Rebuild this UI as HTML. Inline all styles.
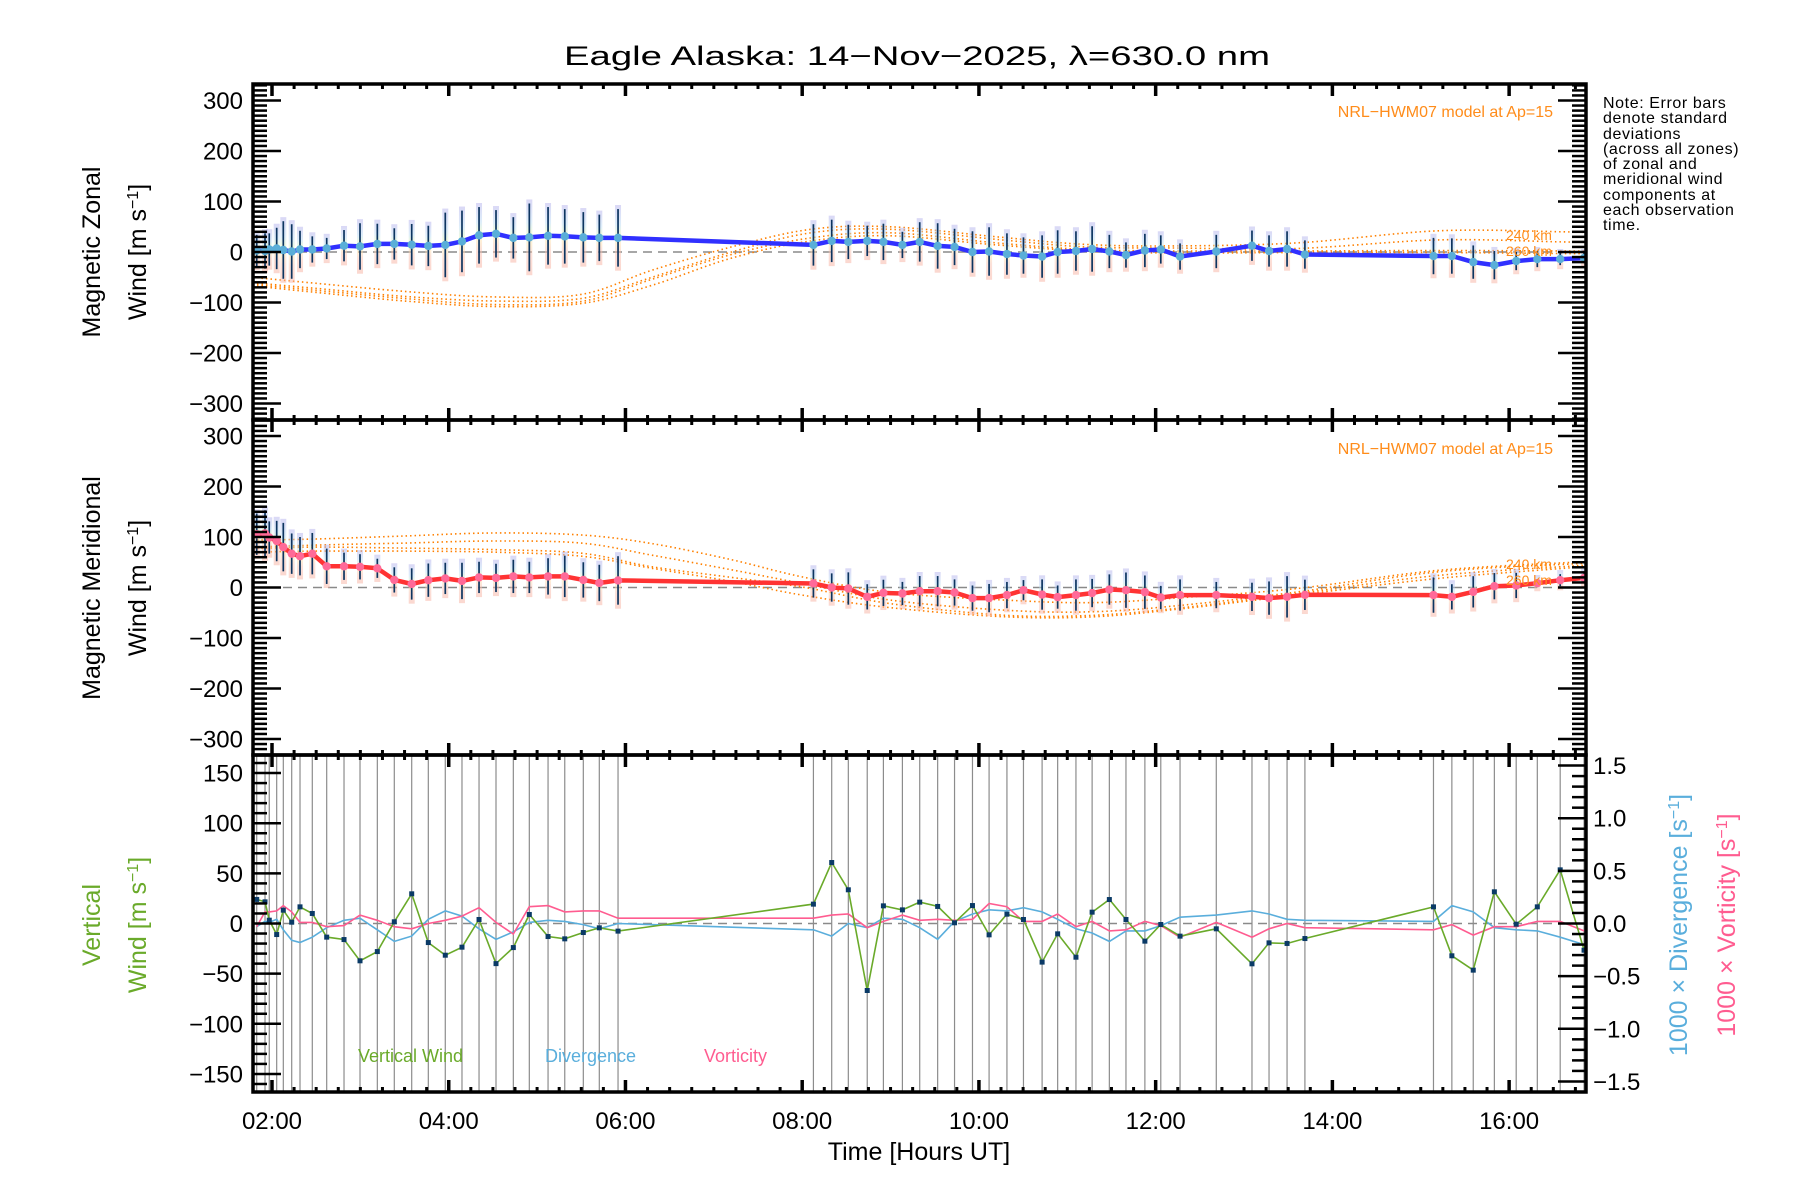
<!DOCTYPE html>
<html><head><meta charset="utf-8"><title>Eagle Alaska winds</title>
<style>
html,body{margin:0;padding:0;background:#fff;}
svg{display:block;font-family:"Liberation Sans",sans-serif;}
</style></head>
<body>
<svg id="chart" width="1800" height="1200" viewBox="0 0 1800 1200" xmlns="http://www.w3.org/2000/svg">
<defs>
<linearGradient id="pastel" x1="0" y1="0" x2="0" y2="1">
<stop offset="0" stop-color="#b4b0ec"/><stop offset="0.3" stop-color="#bcdcf4"/><stop offset="0.45" stop-color="#e2f4b8"/><stop offset="0.58" stop-color="#fde2ae"/><stop offset="0.72" stop-color="#f9c2b2"/><stop offset="1" stop-color="#f7b0a0"/>
</linearGradient>
<clipPath id="c1"><rect x="253" y="84" width="1333" height="336"/></clipPath>
<clipPath id="c2"><rect x="253" y="420" width="1333" height="335"/></clipPath>
<clipPath id="c3"><rect x="253" y="755" width="1333" height="337"/></clipPath>
</defs>
<text x="564" y="65" font-size="27" textLength="706" lengthAdjust="spacingAndGlyphs">Eagle Alaska: 14−Nov−2025, λ=630.0 nm</text>
<g id="g1" clip-path="url(#c1)"></g>
<g id="g2" clip-path="url(#c2)"></g>
<g id="g3" clip-path="url(#c3)"></g>
<g id="axes"></g>
<text transform="translate(100,252) rotate(-90)" text-anchor="middle" font-size="25">Magnetic Zonal</text>
<text transform="translate(146,252) rotate(-90)" text-anchor="middle" font-size="25">Wind [m s<tspan baseline-shift="super" font-size="16">−1</tspan>]</text>
<text transform="translate(100,588) rotate(-90)" text-anchor="middle" font-size="25">Magnetic Meridional</text>
<text transform="translate(146,588) rotate(-90)" text-anchor="middle" font-size="25">Wind [m s<tspan baseline-shift="super" font-size="16">−1</tspan>]</text>
<text transform="translate(100,925) rotate(-90)" text-anchor="middle" font-size="25" fill="#6aaa2a">Vertical</text>
<text transform="translate(146,925) rotate(-90)" text-anchor="middle" font-size="25" fill="#6aaa2a">Wind [m s<tspan baseline-shift="super" font-size="16">−1</tspan>]</text>
<text transform="translate(1687,925) rotate(-90)" text-anchor="middle" font-size="25" fill="#5aaedc">1000 × Divergence [s<tspan baseline-shift="super" font-size="16">−1</tspan>]</text>
<text transform="translate(1735,925) rotate(-90)" text-anchor="middle" font-size="25" fill="#ff5c90">1000 × Vorticity [s<tspan baseline-shift="super" font-size="16">−1</tspan>]</text>
<text x="919" y="1160" text-anchor="middle" font-size="25">Time [Hours UT]</text>
<text x="1553" y="117" text-anchor="end" font-size="16" fill="#ff8c1a">NRL−HWM07 model at Ap=15</text>
<text x="1553" y="454" text-anchor="end" font-size="16" fill="#ff8c1a">NRL−HWM07 model at Ap=15</text>
<text x="1506" y="240" font-size="14" fill="#ff8c1a">240 km</text>
<text x="1506" y="256" font-size="14" fill="#ff8c1a">260 km</text>
<text x="1506" y="569" font-size="14" fill="#ff8c1a">240 km</text>
<text x="1506" y="585" font-size="14" fill="#ff8c1a">260 km</text>
<text x="358" y="1062" font-size="18" fill="#6aaa2a">Vertical Wind</text>
<text x="545" y="1062" font-size="18" fill="#5aaedc">Divergence</text>
<text x="704" y="1062" font-size="18" fill="#ff5c90">Vorticity</text>
<g font-size="16" letter-spacing="0.6">
<text x="1603" y="108">Note: Error bars</text>
<text x="1603" y="123">denote standard</text>
<text x="1603" y="139">deviations</text>
<text x="1603" y="154">(across all zones)</text>
<text x="1603" y="169">of zonal and</text>
<text x="1603" y="184">meridional wind</text>
<text x="1603" y="200">components at</text>
<text x="1603" y="215">each observation</text>
<text x="1603" y="230">time.</text>
</g>
</svg>
<script>
const times=[1.827,1.921,1.969,2.053,2.128,2.223,2.317,2.456,2.619,2.815,2.996,3.192,3.384,3.581,3.769,3.961,4.150,4.343,4.535,4.731,4.912,5.124,5.313,5.523,5.704,5.916,
8.127,8.334,8.522,8.736,8.919,9.134,9.330,9.533,9.724,9.927,10.115,10.317,10.504,10.715,10.891,11.098,11.281,11.476,11.664,11.878,12.058,12.276,12.686,13.090,13.283,13.487,13.689,
15.144,15.352,15.594,15.833,16.080,16.319,16.578,16.848];
const zonal=[3,2,5,7,4,1,5,5,7,12.5,11,16,16,14.5,12,14,21,33,36,28,29,32,31,29,28,28,
14,22,20,22,20,14,20,12,10,0,1,-4,-7,-9,0,2,6,1,-6,3,5,-9,1,12.5,2,6,-5,
-8,-8,-20,-26,-18,-14,-14,-12];
const zonalSd=[31,35,32,41,57,54,37,26,21,31,46,40,31,41,40,64,61,56,47,41,67,57,54,50,46,57,
41,42,34,30,36,26,39,45,36,41,48,41,36,42,43,39,45,33,25,33,28,26,33,30,31,35,28,
36,35,33,28,18,16,12,10];
const merid=[105.6,107,99,92,80,67,62,67,42,42,41,38,15,7,14.5,18,13,20,19,22,20,22,22,15,9,14,
8,0,-2,-18.5,-10.6,-11.9,-7.3,-7.3,-9.9,-21,-21,-15,-5.3,-13.9,-19,-15,-11,-4,-5.3,-9.2,-19.8,-15,-15,-18.5,-21,-18.5,-14.5,
-15,-18.5,-8.6,2.6,4,8.6,14.5,19];
const meridSd=[41,46,32,40,48,40,38,41,35,27,25,19,25,31,33,31,36,31,28,33,31,36,41,35,36,48,
28,28,32,25,26,23,30,30,26,25,28,26,20,30,23,31,28,30,35,33,23,31,26,28,33,41,30,
35,25,31,26,25,8,12,10];
const vert=[24,21.6,3.3,-11,13.3,1.3,16.6,10,-13.6,-16,-37.2,-28,1.7,29.6,-19,-31.6,-23.6,4,-40,-24,9,-13,-15.3,-9,-4.3,-7.6,
19.3,60.8,33.6,-66.8,17.6,13.6,21.3,17,0.7,17.9,-11.3,9.3,4,-38.5,-10.3,-33.6,11.3,23.9,4,-17.6,-1,-12.6,-5.3,-40.2,-19.3,-19.9,-15,
16.6,-32.2,-46.5,31.6,-0.7,16.6,53.5,-26.6];
const diverg=[-0.03,0.02,0.01,0.04,-0.06,-0.16,-0.18,-0.13,-0.04,0.03,0.05,-0.06,-0.17,-0.12,0.04,0.12,0.07,-0.05,-0.15,-0.08,0.01,0.03,0.02,-0.01,-0.05,0.0,
-0.06,-0.12,0,-0.04,0.05,0.04,-0.04,-0.15,0.02,0.09,0.13,0.12,0.15,0.11,0.04,-0.05,-0.09,-0.17,-0.07,-0.07,-0.02,0.06,0.08,0.12,0.09,0.04,0.03,
0.02,0.17,0.11,-0.04,-0.06,-0.07,-0.13,-0.2];
const vortic=[-0.03,0.11,0.11,0.12,0.17,0.11,0.01,0.01,-0.03,-0.02,0.08,0.03,-0.03,-0.05,0,0.03,0.07,0.15,0.01,-0.1,0.16,0.17,0.11,0.12,0.12,0.05,
0.05,0.08,0.09,-0.04,0.02,0.08,0.03,0.04,0.03,0.04,0.19,0.16,0.02,0.02,0.09,-0.03,0.02,-0.07,-0.06,0.02,-0.02,-0.13,0.01,-0.13,-0.05,0,-0.04,
-0.06,-0.01,-0.11,-0.03,-0.03,0.02,0.02,-0.07];
const zModelT=[1.78,2.5,3.5,4.5,5.5,6.3,7.2,8.1,9,10.2,11.2,12.2,13.6,15.2,16.6,16.9];
const zModel1=[-50,-62,-78,-89,-84,-36,10,45,50,30,15,12,18,42,40,38];
const zModel2=[-61,-72,-88,-97,-92,-50,0,38,45,25,10,8,7,24,20,19];
const zModel3=[-64,-76,-92,-104,-98,-54,-5,28,38,18,5,2,2,3,2,2];
const zModel4=[-67,-80,-97,-108,-102,-66,-12,22,32,14,2,-2,-1,-1,-3,-3];
const mModelT=[1.78,2.5,3.5,4.5,5.5,6.3,7.2,8.0,9,10.3,11.3,12.3,13.6,15.2,16.85];
const mModel1=[94,96,102,108,104,87,55,21,-10,-25,-30,-20,-2,34,51];
const mModel2=[80,84,88,92,88,64,35,8,-25,-45,-48,-35,-9,31,48];
const mModel3=[77,80,78,75,68,41,20,1,-32,-55,-55,-40,-12,24,44];
const mModel4=[70,72,72,70,62,38,12,-15,-40,-58,-58,-42,-15,18,41];
const windTicks=[-300,-200,-100,0,100,200,300];
const vertTicks=[-150,-100,-50,0,50,100,150];
const rightTicks=[-1.5,-1.0,-0.5,0.0,0.5,1.0,1.5];
const hourTicks=[2,4,6,8,10,12,14,16];

const NS="http://www.w3.org/2000/svg";
const L=253,R=1586,T1=84,B1=420,T2=420,B2=755,T3=755,B3=1092;
const tMin=1.785,tMax=16.87;
function xs(t){return L+(t-tMin)/(tMax-tMin)*(R-L);}
function y1(v){return 252-v*0.505;}
function y2(v){return 587.5-v*0.505;}
function y3(v){return 923.5-v*1.003;}
function y3r(d){return 923.5-d*105.3;}
function mk(tag,attrs,parent){const e=document.createElementNS(NS,tag);for(const k in attrs)e.setAttribute(k,attrs[k]);parent.appendChild(e);return e;}
const g1=document.getElementById('g1'),g2=document.getElementById('g2'),g3=document.getElementById('g3'),ax=document.getElementById('axes');
function pathFrom(ts,vs,yf){let d='';for(let i=0;i<ts.length;i++){d+=(i?'L':'M')+xs(ts[i]).toFixed(1)+','+yf(vs[i]).toFixed(1);}return d;}
function smoothPath(ts,vs,yf){
  const P=ts.map((t,i)=>[xs(t),yf(vs[i])]);
  let d='M'+P[0][0].toFixed(1)+','+P[0][1].toFixed(1);
  for(let i=0;i<P.length-1;i++){
    const p0=P[Math.max(0,i-1)],p1=P[i],p2=P[i+1],p3=P[Math.min(P.length-1,i+2)];
    const c1x=p1[0]+(p2[0]-p0[0])/6,c1y=p1[1]+(p2[1]-p0[1])/6;
    const c2x=p2[0]-(p3[0]-p1[0])/6,c2y=p2[1]-(p3[1]-p1[1])/6;
    d+='C'+c1x.toFixed(1)+','+c1y.toFixed(1)+' '+c2x.toFixed(1)+','+c2y.toFixed(1)+' '+p2[0].toFixed(1)+','+p2[1].toFixed(1);
  }
  return d;
}

[[g1,y1(0)],[g2,y2(0)],[g3,y3(0)]].forEach(([g,y])=>{
  const z=mk('line',{x1:L,x2:R,y1:y,y2:y,stroke:'#8a8a8a','stroke-width':1.5,'stroke-dasharray':'9,6'},g);
  
  
});

function modelCurve(g,ts,vs,yf,name){
  const p=mk('path',{d:smoothPath(ts,vs,yf),fill:'none',stroke:'#ff8000','stroke-width':1.6,'stroke-dasharray':'1.5,3'},g);
  
  
}
modelCurve(g1,zModelT,zModel1,y1,'zonal-model-240km');
modelCurve(g1,zModelT,zModel2,y1,'zonal-model-250km');
modelCurve(g1,zModelT,zModel3,y1,'zonal-model-260km');
modelCurve(g1,zModelT,zModel4,y1,'zonal-model-270km');
modelCurve(g2,mModelT,mModel1,y2,'meridional-model-240km');
modelCurve(g2,mModelT,mModel2,y2,'meridional-model-250km');
modelCurve(g2,mModelT,mModel3,y2,'meridional-model-260km');
modelCurve(g2,mModelT,mModel4,y2,'meridional-model-270km');

function bars(g,vals,sds,yf,prefix){
  for(let i=0;i<times.length;i++){
    const x=xs(times[i]);
    const s=mk('rect',{x:x-3,y:yf(vals[i]+sds[i]+8),width:6,height:yf(vals[i]-sds[i]-8)-yf(vals[i]+sds[i]+8),fill:'url(#pastel)',opacity:0.5},g);
    
    
    const b=mk('line',{x1:x,x2:x,y1:yf(vals[i]+sds[i]),y2:yf(vals[i]-sds[i]),stroke:'#0d3560','stroke-width':1.7},g);
    
    
  }
}
bars(g1,zonal,zonalSd,y1,'zonal');
bars(g2,merid,meridSd,y2,'meridional');

const zl=mk('path',{d:pathFrom(times,zonal,y1),fill:'none',stroke:'#3030ff','stroke-width':4.5,'stroke-linejoin':'round'},g1);


const ml=mk('path',{d:pathFrom(times,merid,y2),fill:'none',stroke:'#ff3333','stroke-width':4.5,'stroke-linejoin':'round'},g2);


for(let i=0;i<times.length;i++){
  const a=mk('circle',{cx:xs(times[i]),cy:y1(zonal[i]),r:4.2,fill:'#5aaed8'},g1);
  
  
  const b=mk('circle',{cx:xs(times[i]),cy:y2(merid[i]),r:4.2,fill:'#ff6a98'},g2);
  
  
}

for(let i=0;i<times.length;i++){
  const x=xs(times[i]);
  const gl=mk('line',{x1:x,x2:x,y1:T3,y2:B3,stroke:'#8c8c8c','stroke-width':1.2},g3);
  
  
}
const dl=mk('path',{d:pathFrom(times,diverg,y3r),fill:'none',stroke:'#5aaedc','stroke-width':1.6},g3);


const vl=mk('path',{d:pathFrom(times,vortic,y3r),fill:'none',stroke:'#ff5c90','stroke-width':1.6},g3);


const wl=mk('path',{d:pathFrom(times,vert,y3),fill:'none',stroke:'#6aaa2a','stroke-width':1.6},g3);


for(let i=0;i<times.length;i++){
  const p=mk('rect',{x:xs(times[i])-2.5,y:y3(vert[i])-2.5,width:5,height:5,fill:'#0a3a66'},g3);
  
  
}

function frame(top,bot,name){
  const f=mk('rect',{x:L,y:top,width:R-L,height:bot-top,fill:'none',stroke:'#000','stroke-width':3.5},ax);
  
  
  for(let m=Math.ceil(tMin*4);m<=tMax*4;m++){
    const t=m/4,x=xs(t),len=(m%8===0)?12:5,w=(m%8===0)?3.5:3;
    mk('line',{x1:x,x2:x,y1:top,y2:top+len,stroke:'#000','stroke-width':w},ax);
    mk('line',{x1:x,x2:x,y1:bot,y2:bot-len,stroke:'#000','stroke-width':w},ax);
  }
}
frame(T1,B1,'zonal-panel-frame');
frame(T2,B2,'meridional-panel-frame');
frame(T3,B3,'vertical-panel-frame');
function yTicks(yf,lo,hi,minorStep,majorStep,top,bot,bothSides,labels,name){
  for(let v=lo;v<=hi+1e-9;v+=minorStep){
    const y=yf(v);if(y<top+1||y>bot-1)continue;
    const major=Math.abs(v/majorStep-Math.round(v/majorStep))<1e-6;
    const len=major?28:14;
    mk('line',{x1:L,x2:L+len,y1:y,y2:y,stroke:'#000','stroke-width':2.5},ax);
    if(bothSides)mk('line',{x1:R,x2:R-len,y1:y,y2:y,stroke:'#000','stroke-width':2.5},ax);
  }
  labels.forEach(v=>{
    const t=mk('text',{x:243,y:yf(v)+8.5,'text-anchor':'end','font-size':24},ax);
    
    
    t.textContent=(v<0?'−':'')+Math.abs(v);
  });
}
yTicks(y1,-330,330,10,100,T1,B1,true,windTicks,'zonal');
yTicks(y2,-330,330,10,100,T2,B2,true,windTicks,'meridional');
yTicks(y3,-160,160,10,50,T3,B3,false,vertTicks,'vertical');
for(let k=-16;k<=16;k++){
  const d=k/10,y=y3r(d);if(y<T3+1||y>B3-1)continue;
  const len=(k%5===0)?28:14;
  mk('line',{x1:R,x2:R-len,y1:y,y2:y,stroke:'#000','stroke-width':2.5},ax);
}
rightTicks.forEach(v=>{
  const t=mk('text',{x:1593,y:y3r(v)+8.5,'font-size':24},ax);
  
  
  t.textContent=(v<0?'−':'')+Math.abs(v).toFixed(1);
});
hourTicks.forEach(h=>{
  const t=mk('text',{x:xs(h),y:1129,'text-anchor':'middle','font-size':24},ax);
  
  
  t.textContent=(h<10?'0':'')+h+':00';
});
</script>
</body></html>
